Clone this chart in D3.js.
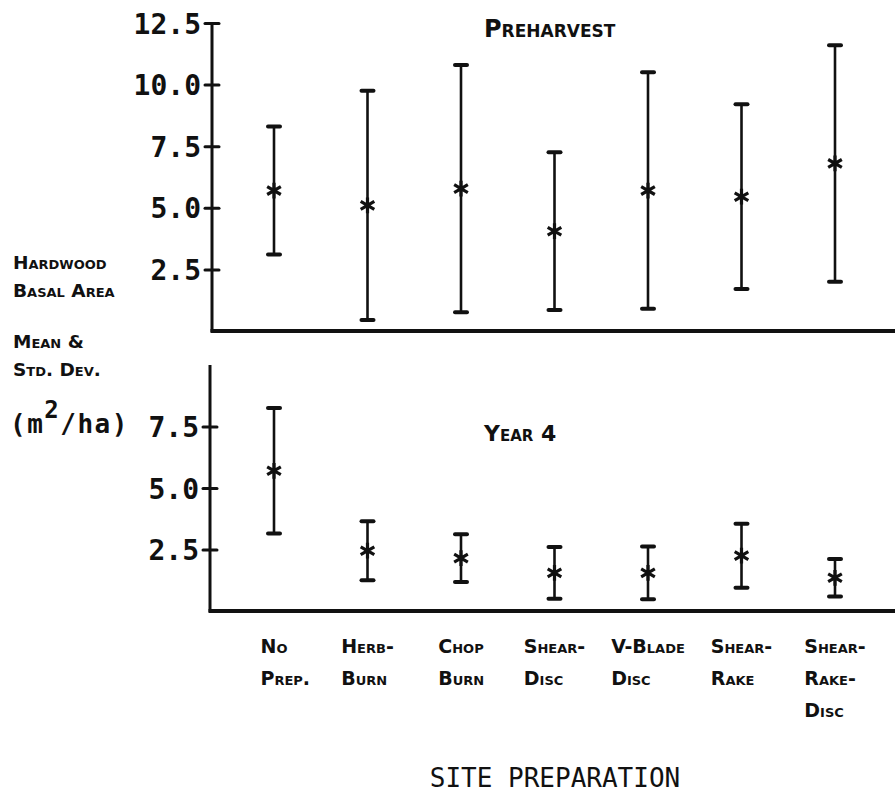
<!DOCTYPE html>
<html>
<head>
<meta charset="utf-8">
<script src="https://cdn.jsdelivr.net/npm/d3@7"></script>
<style>
  html, body { margin: 0; padding: 0; background: #fff; }
  svg { display: block; }
  .sc { font-family: "DejaVu Sans", sans-serif; font-weight: bold; font-variant: small-caps; fill: #111; }
  .mono { font-family: "DejaVu Sans Mono", monospace; fill: #111; }
</style>
</head>
<body>
<svg id="chart" width="895" height="795"></svg>
<script>
// Site preparation treatments
const categories = ["No Prep.", "Herb-Burn", "Chop Burn", "Shear-Disc", "V-Blade Disc", "Shear-Rake", "Shear-Rake-Disc"];
// Label lines drawn under each treatment
const categoryLines = [
  ["No", "Prep."],
  ["Herb-", "Burn"],
  ["Chop", "Burn"],
  ["Shear-", "Disc"],
  ["V-Blade", "Disc"],
  ["Shear-", "Rake"],
  ["Shear-", "Rake-", "Disc"]
];

// Hardwood basal area (m2/ha), preharvest
const preMean = [5.7, 5.1, 5.78, 4.05, 5.7, 5.45, 6.8];
const preSD   = [2.6, 4.65, 5.02, 3.2, 4.8, 3.75, 4.8];

// Hardwood basal area (m2/ha), year 4
const yr4Mean = [5.7, 2.45, 2.15, 1.55, 1.55, 2.25, 1.35];
const yr4SD   = [2.55, 1.2, 0.97, 1.05, 1.07, 1.3, 0.76];

const preTicks = [2.5, 5.0, 7.5, 10.0, 12.5];
const yr4Ticks = [2.5, 5.0, 7.5];

const svg = d3.select("#chart");
const ink = "#111";

const x = d3.scalePoint().domain(categories).range([274, 835]);
const yPre = d3.scaleLinear().domain([0, 12.5]).range([331, 23]);
const yYr4 = d3.scaleLinear().domain([0, 10]).range([611, 365]);

function drawPanel(g, y, axisX, ticks, means, sds, topValue, topCap) {
  // axis frame: vertical axis and long baseline
  g.append("line")
    .attr("x1", axisX).attr("x2", axisX)
    .attr("y1", y(topValue)).attr("y2", y(0) + 1)
    .attr("stroke", ink).attr("stroke-width", 3);
  g.append("line")
    .attr("x1", axisX - 1.5).attr("x2", 895)
    .attr("y1", y(0)).attr("y2", y(0))
    .attr("stroke", ink).attr("stroke-width", 4);

  const axis = d3.axisLeft(y)
    .tickValues(ticks)
    .tickFormat(d3.format(".1f"))
    .tickSize(7)
    .tickPadding(4);
  const ag = g.append("g")
    .attr("transform", `translate(${axisX},0)`)
    .call(axis);
  ag.select(".domain").remove();
  ag.selectAll(".tick line")
    .attr("x1", 7)
    .attr("stroke", ink)
    .attr("stroke-width", 3)
    .attr("stroke-linecap", "round");
  ag.selectAll(".tick text")
    .attr("class", "mono")
    .attr("font-size", 28)
    .attr("font-weight", "bold")
    .attr("dy", "0.36em")
    .attr("fill", ink);
  if (topCap) {
    ag.selectAll(".tick").filter(d => d === topValue).select("line")
      .attr("x1", 7).attr("x2", -7);
  }

  const rows = categories.map((c, i) => ({ c, m: means[i], s: sds[i] }));
  const bars = g.append("g").selectAll("g").data(rows).join("g");
  bars.append("line")
    .attr("x1", d => x(d.c)).attr("x2", d => x(d.c))
    .attr("y1", d => y(d.m + d.s)).attr("y2", d => y(d.m - d.s))
    .attr("stroke", ink).attr("stroke-width", 2.6);
  [d => d.m + d.s, d => d.m - d.s].forEach(fn => {
    bars.append("line")
      .attr("x1", d => x(d.c) - 6).attr("x2", d => x(d.c) + 6)
      .attr("y1", d => y(fn(d))).attr("y2", d => y(fn(d)))
      .attr("stroke", ink).attr("stroke-width", 4)
      .attr("stroke-linecap", "round");
  });
  const star = d3.symbol().type(d3.symbolAsterisk).size(175);
  bars.append("path")
    .attr("d", star)
    .attr("transform", d => `translate(${x(d.c)},${y(d.m)})`)
    .attr("fill", "none")
    .attr("stroke", ink)
    .attr("stroke-width", 3.2);
}

drawPanel(svg.append("g"), yPre, 212, preTicks, preMean, preSD, 12.5, true);
drawPanel(svg.append("g"), yYr4, 210, yr4Ticks, yr4Mean, yr4SD, 10, false);

// panel titles
svg.append("text").attr("class", "sc")
  .attr("x", 484).attr("y", 37).attr("font-size", 24)
  .text("Preharvest");
svg.append("text").attr("class", "sc")
  .attr("x", 484).attr("y", 441).attr("font-size", 22)
  .text("Year 4");

// y-axis description
const yLabel = [
  ["Hardwood", 269],
  ["Basal Area", 297],
  ["Mean &", 348],
  ["Std. Dev.", 376]
];
yLabel.forEach(([t, yy]) => {
  svg.append("text").attr("class", "sc")
    .attr("x", 13).attr("y", yy).attr("font-size", 18.5)
    .text(t);
});
const units = svg.append("text").attr("class", "mono")
  .attr("x", 10).attr("y", 433)
  .attr("font-size", 26).attr("font-weight", "bold")
  .attr("letter-spacing", 1.5);
units.append("tspan").text("(m");
units.append("tspan").attr("font-size", 24).attr("dy", -15).text("2");
units.append("tspan").attr("dy", 15).text("/ha)");

// treatment labels under the lower panel
categories.forEach((c, i) => {
  const g = svg.append("g");
  const texts = categoryLines[i].map((line, k) =>
    g.append("text").attr("class", "sc")
      .attr("x", 0).attr("y", 653 + k * 32)
      .attr("font-size", 19)
      .text(line));
  const w = texts[0].node().getComputedTextLength();
  g.attr("transform", `translate(${x(c) - w / 2},0)`);
});

// x-axis title
svg.append("text").attr("class", "mono")
  .attr("x", 555).attr("y", 787)
  .attr("text-anchor", "middle")
  .attr("font-size", 26)
  .text("SITE PREPARATION");
</script>
</body>
</html>
